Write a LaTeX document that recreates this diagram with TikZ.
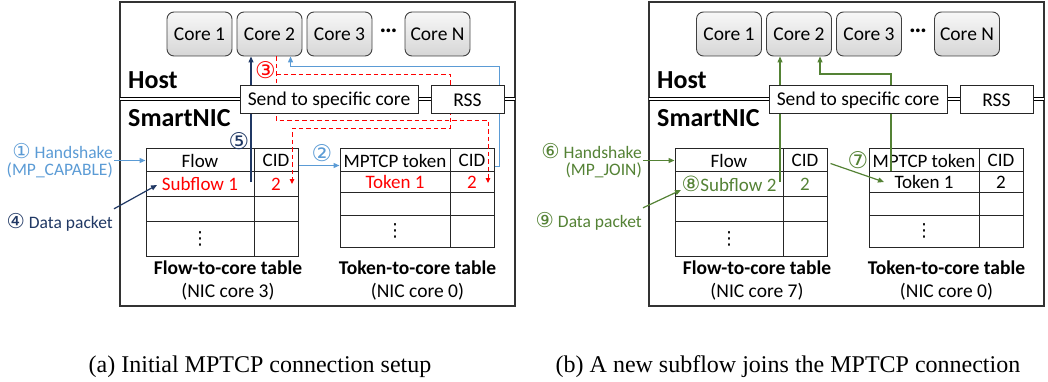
\documentclass[tikz,border=0pt]{standalone}
\usepackage{fontspec}
\setmainfont{Carlito}
\newfontfamily\symf{DejaVu Sans}
\newfontfamily\capf{Liberation Serif}
\usetikzlibrary{arrows.meta}
\definecolor{lblue}{HTML}{5B9BD5}
\definecolor{navy}{HTML}{203864}
\definecolor{dgreen}{HTML}{548235}
\definecolor{nred}{HTML}{FF0000}
\newcommand{\cnum}[1]{{\symf\fontsize{20.5}{17}\selectfont #1}}
\newcommand{\vdt}{{\symf\fontsize{18}{18}\selectfont ⋮}}
\begin{document}
\begin{tikzpicture}[x=1pt,y=-1pt,
 frm/.style={draw=black!80, line width=1.2pt},
 core/.style={draw=black!75, line width=0.9pt, rounded corners=7pt, top color=gray!6, bottom color=gray!32, minimum width=65pt, minimum height=44pt, inner sep=0pt, font=\fontsize{19.5}{20}\selectfont},
 box/.style={draw=black!85, fill=white, line width=1pt, minimum height=28pt, inner sep=0pt, font=\fontsize{19.5}{20}\selectfont},
 cell/.style={draw=black!85, line width=1pt, inner sep=0pt, font=\fontsize{19}{20}\selectfont},
 hdr/.style={anchor=west, inner sep=0pt, font=\bfseries\fontsize{26}{26}\selectfont},
 tcap/.style={inner sep=0pt, font=\bfseries\fontsize{19.5}{20}\selectfont},
 tsub/.style={inner sep=0pt, font=\fontsize{19.5}{20}\selectfont},
 side/.style={anchor=east, align=right, inner sep=1pt, font=\fontsize{17.5}{17}\selectfont},
 num/.style={inner sep=0pt, font=\symf\fontsize{23}{23}\selectfont},
 dots/.style={inner sep=0pt, font=\bfseries\fontsize{25}{25}\selectfont},
 conn/.style={line width=1.2pt, -{Triangle[length=6pt,width=5pt]}},
 rdash/.style={draw=nred, line width=1pt, dash pattern=on 4.5pt off 3pt, -{Triangle[length=5pt,width=4.5pt]}},
 fcap/.style={inner sep=0pt, font=\capf\fontsize{24}{24}\selectfont},
 dline/.style={double, double distance=2pt, line width=0.8pt}
]
\useasboundingbox (0,0) rectangle (1048,382);

% ================= LEFT PANEL =================
\draw[frm] (120,2) rectangle (515,306);
\draw[dline] (120,99) -- (515,99);
\node[core] (cL1) at (199.5,34) {Core 1};
\node[core] (cL2) at (269.5,34) {Core 2};
\node[core] (cL3) at (339.5,34) {Core 3};
\node[dots] (dL) at (388.5,31) {…};
\node[core] (cLN) at (437.5,34) {Core N};
\node[hdr] (hostL) at (128,80) {Host};
\node[hdr] (nicL) at (128,118) {SmartNIC};

% flow table
\node[cell,minimum width=108pt,minimum height=23pt] (fL11) at (200,160.5) {Flow};
\node[cell,minimum width=44pt,minimum height=23pt] (fL12) at (276,160.5) {CID};
\node[cell,minimum width=108pt,minimum height=24pt,text=nred] (fL21) at (200,184) {Subflow 1};
\node[cell,minimum width=44pt,minimum height=24pt,text=nred] (fL22) at (276,184) {2};
\node[cell,minimum width=108pt,minimum height=25pt] (fL31) at (200,208.5) {};
\node[cell,minimum width=44pt,minimum height=25pt] (fL32) at (276,208.5) {};
\node[cell,minimum width=108pt,minimum height=35pt] (fL41) at (200,238.5) {\vdt};
\node[cell,minimum width=44pt,minimum height=35pt] (fL42) at (276,238.5) {};
% token table
\node[cell,minimum width=110pt,minimum height=23pt] (tL11) at (395,160.5) {MPTCP token};
\node[cell,minimum width=44pt,minimum height=23pt] (tL12) at (472,160.5) {CID};
\node[cell,minimum width=110pt,minimum height=20pt,text=nred] (tL21) at (395,182) {Token 1};
\node[cell,minimum width=44pt,minimum height=20pt,text=nred] (tL22) at (472,182) {2};
\node[cell,minimum width=110pt,minimum height=23pt] (tL31) at (395,203.5) {};
\node[cell,minimum width=44pt,minimum height=23pt] (tL32) at (472,203.5) {};
\node[cell,minimum width=110pt,minimum height=32pt] (tL41) at (395,231) {\vdt};
\node[cell,minimum width=44pt,minimum height=32pt] (tL42) at (472,231) {};

\node[tcap] (fcapL) at (228,268) {Flow-to-core table};
\node[tsub] (fsubL) at (228,292) {(NIC core 3)};
\node[tcap] (tcapL) at (417.5,268) {Token-to-core table};
\node[tsub] (tsubL) at (417.5,292) {(NIC core 0)};

\node[side,text=lblue] (hsL) at (114,160.5) {\cnum{①} Handshake\\(MP\_CAPABLE)};
\node[side,text=navy] (dpL) at (114,222) {\cnum{④} Data packet};
\node[num,text=lblue] (n2) at (322,153) {②};
\node[num,text=nred] (n3) at (265.5,70) {③};
\node[num,text=navy] (n5) at (239,141) {⑤};

% connectors
\draw[lblue,conn] (fL11.west -| hsL.east) -- (fL11.west);
\draw[lblue,conn] ([yshift=-5pt]fL12.east) -- ([yshift=-5pt]tL11.west);
\draw[lblue,conn] ([yshift=-6pt]tL12.east) -- ++(5,0) -- ++(0,-100) -| ([xshift=21pt]cL2.south);
\draw[navy,conn] ([yshift=3pt]dpL.north east) -- ([xshift=-43pt,yshift=-1pt]fL21.center);
\coordinate (n5b) at (251,182);
\draw[navy,conn] (n5b) -- (n5b |- cL2.south);
\draw[rdash] ([xshift=6.5pt]cL2.south) -- ++(0,64) -| ([xshift=16pt,yshift=-1pt]tL22.center);
\draw[rdash] ([xshift=6.5pt]cL2.south) ++(0,18) -- ++(174,0) -- ++(0,54) -| ([xshift=16pt]fL22.center);

\node[box,minimum width=178pt] (sendL) at (329,100) {Send to specific core};
\node[box,minimum width=73pt] (rssL) at (467.5,100) {RSS};

% ================= RIGHT PANEL =================
\begin{scope}[xshift=529pt]
\draw[frm] (120,2) rectangle (515,306);
\draw[dline] (120,99) -- (515,99);
\node[core] (cR1) at (200,34) {Core 1};
\node[core] (cR2) at (270,34) {Core 2};
\node[core] (cR3) at (340,34) {Core 3};
\node[dots] (dR) at (389,31) {…};
\node[core] (cRN) at (438,34) {Core N};
\node[hdr] (hostR) at (128,80) {Host};
\node[hdr] (nicR) at (128,118) {SmartNIC};

\node[cell,minimum width=108pt,minimum height=23pt] (fR11) at (200,160.5) {Flow};
\node[cell,minimum width=44pt,minimum height=23pt] (fR12) at (276,160.5) {CID};
\node[cell,minimum width=108pt,minimum height=24pt,text=dgreen] (fR21) at (200,184) {{\symf\fontsize{21}{20}\selectfont ⑧}Subflow 2};
\node[cell,minimum width=44pt,minimum height=24pt,text=dgreen] (fR22) at (276,184) {2};
\node[cell,minimum width=108pt,minimum height=25pt] (fR31) at (200,208.5) {};
\node[cell,minimum width=44pt,minimum height=25pt] (fR32) at (276,208.5) {};
\node[cell,minimum width=108pt,minimum height=35pt] (fR41) at (200,238.5) {\vdt};
\node[cell,minimum width=44pt,minimum height=35pt] (fR42) at (276,238.5) {};
\node[cell,minimum width=110pt,minimum height=23pt] (tR11) at (395,160.5) {MPTCP token};
\node[cell,minimum width=44pt,minimum height=23pt] (tR12) at (472,160.5) {CID};
\node[cell,minimum width=110pt,minimum height=20pt] (tR21) at (395,182) {Token 1};
\node[cell,minimum width=44pt,minimum height=20pt] (tR22) at (472,182) {2};
\node[cell,minimum width=110pt,minimum height=23pt] (tR31) at (395,203.5) {};
\node[cell,minimum width=44pt,minimum height=23pt] (tR32) at (472,203.5) {};
\node[cell,minimum width=110pt,minimum height=32pt] (tR41) at (395,231) {\vdt};
\node[cell,minimum width=44pt,minimum height=32pt] (tR42) at (472,231) {};

\node[tcap] (fcapR) at (228,268) {Flow-to-core table};
\node[tsub] (fsubR) at (228,292) {(NIC core 7)};
\node[tcap] (tcapR) at (417.5,268) {Token-to-core table};
\node[tsub] (tsubR) at (417.5,292) {(NIC core 0)};

\node[side,text=dgreen] (hsR) at (114,160.5) {\cnum{⑥} Handshake\\(MP\_JOIN)};
\node[side,text=dgreen] (dpR) at (114,221) {\cnum{⑨} Data packet};
\node[num,text=dgreen] (n7) at (329,160) {⑦};

\draw[dgreen,conn] (fR11.west -| hsR.east) -- (fR11.west);
\draw[dgreen,conn] ([xshift=3pt,yshift=-3pt]fR12.east) -- ([xshift=-40pt]tR21.center);
\draw[dgreen,conn] ([yshift=3pt]dpR.north east) -- ([xshift=-48pt,yshift=-6pt]fR21.center);
\coordinate (g8b) at (251,182);
\draw[dgreen,conn] (g8b) -- (g8b |- cR2.south);
\draw[dgreen,conn] ([xshift=-33pt]tR21.north) -- ++(0,-97.5) -| ([xshift=21pt]cR2.south);

\node[box,minimum width=178pt] (sendR) at (329,100) {Send to specific core};
\node[box,minimum width=73pt] (rssR) at (467.5,100) {RSS};
\end{scope}

% captions
\node[fcap] (capA) at (260,367) {(a) Initial MPTCP connection setup};
\node[fcap] (capB) at (788,367) {(b) A new subflow joins the MPTCP connection};
\end{tikzpicture}
\end{document}
